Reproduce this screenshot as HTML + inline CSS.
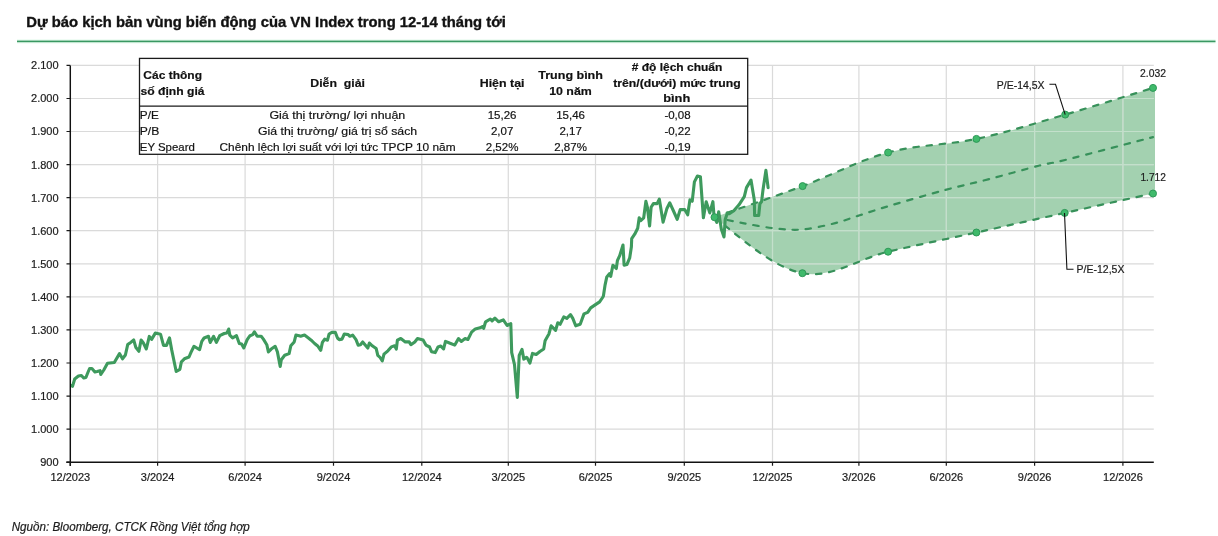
<!DOCTYPE html><html><head><meta charset="utf-8"><style>html,body{margin:0;padding:0;background:#fff;}svg{display:block;will-change:transform;}text{font-family:"Liberation Sans", sans-serif;stroke:#1a1a1a;stroke-width:0.2px;}</style></head><body>
<svg width="1218" height="536" viewBox="0 0 1218 536">
<text x="26.2" y="27.2" font-size="15.2" font-weight="bold" fill="#111" style="stroke-width:0.4px" textLength="479.6" lengthAdjust="spacingAndGlyphs">Dự báo kịch bản vùng biến động của VN Index trong 12-14 tháng tới</text>
<rect x="17" y="39.4" width="1198.5" height="4" fill="#d2f5e0" opacity="0.6"/>
<rect x="17" y="40.6" width="1198.5" height="1.6" fill="#3a9862"/>
<path d="M714.5,217.2 C729.2,212 773.7,196.9 802.6,186.1 C831.5,175.3 859.1,160.4 888.1,152.5 C917.1,144.6 946.9,145.2 976.4,138.9 C1005.9,132.6 1035.8,123.1 1065.2,114.6 C1094.6,106.1 1138.4,92.4 1153,87.9 L1155,87.4 L1155,194 L1153,193.5 C1138.3,196.7 1094.1,206.4 1064.7,212.9 C1035.3,219.4 1005.8,226 976.4,232.5 C947,239 917.1,244.9 888.1,251.7 C859.1,258.5 831.3,278.9 802.4,273.2 C773.5,267.4 745,241.6 714.5,217.2 Z" fill="#a3d1b0"/>
<path d="M70.3,429.1 H1153.8 M70.3,396.1 H1153.8 M70.3,363 H1153.8 M70.3,329.9 H1153.8 M70.3,296.9 H1153.8 M70.3,263.8 H1153.8 M70.3,230.7 H1153.8 M70.3,197.7 H1153.8 M70.3,164.6 H1153.8 M70.3,131.5 H1153.8 M70.3,98.5 H1153.8 M70.3,65.4 H1153.8 M157.6,462 V65.4 M245.1,462 V65.4 M333.5,462 V65.4 M421.8,462 V65.4 M508.3,462 V65.4 M595.5,462 V65.4 M684.3,462 V65.4 M772.5,462 V65.4 M858.9,462 V65.4 M946.3,462 V65.4 M1034.6,462 V65.4 M1122.9,462 V65.4" stroke="#d4d4d4" stroke-opacity="0.85" stroke-width="1.2" fill="none"/>
<clipPath id="fc"><path d="M714.5,217.2 C729.2,212 773.7,196.9 802.6,186.1 C831.5,175.3 859.1,160.4 888.1,152.5 C917.1,144.6 946.9,145.2 976.4,138.9 C1005.9,132.6 1035.8,123.1 1065.2,114.6 C1094.6,106.1 1138.4,92.4 1153,87.9 L1155,87.4 L1155,194 L1153,193.5 C1138.3,196.7 1094.1,206.4 1064.7,212.9 C1035.3,219.4 1005.8,226 976.4,232.5 C947,239 917.1,244.9 888.1,251.7 C859.1,258.5 831.3,278.9 802.4,273.2 C773.5,267.4 745,241.6 714.5,217.2 Z"/></clipPath>
<path d="M70.3,429.1 H1153.8 M70.3,396.1 H1153.8 M70.3,363 H1153.8 M70.3,329.9 H1153.8 M70.3,296.9 H1153.8 M70.3,263.8 H1153.8 M70.3,230.7 H1153.8 M70.3,197.7 H1153.8 M70.3,164.6 H1153.8 M70.3,131.5 H1153.8 M70.3,98.5 H1153.8 M70.3,65.4 H1153.8 M157.6,462 V65.4 M245.1,462 V65.4 M333.5,462 V65.4 M421.8,462 V65.4 M508.3,462 V65.4 M595.5,462 V65.4 M684.3,462 V65.4 M772.5,462 V65.4 M858.9,462 V65.4 M946.3,462 V65.4 M1034.6,462 V65.4 M1122.9,462 V65.4" stroke="#c3e0cb" stroke-width="1.2" fill="none" clip-path="url(#fc)"/>
<text x="58.6" y="466.1" font-size="11" fill="#1c1c1c" text-anchor="end">900</text>
<text x="58.6" y="433" font-size="11" fill="#1c1c1c" text-anchor="end">1.000</text>
<text x="58.6" y="400" font-size="11" fill="#1c1c1c" text-anchor="end">1.100</text>
<text x="58.6" y="366.9" font-size="11" fill="#1c1c1c" text-anchor="end">1.200</text>
<text x="58.6" y="333.8" font-size="11" fill="#1c1c1c" text-anchor="end">1.300</text>
<text x="58.6" y="300.8" font-size="11" fill="#1c1c1c" text-anchor="end">1.400</text>
<text x="58.6" y="267.7" font-size="11" fill="#1c1c1c" text-anchor="end">1.500</text>
<text x="58.6" y="234.6" font-size="11" fill="#1c1c1c" text-anchor="end">1.600</text>
<text x="58.6" y="201.6" font-size="11" fill="#1c1c1c" text-anchor="end">1.700</text>
<text x="58.6" y="168.5" font-size="11" fill="#1c1c1c" text-anchor="end">1.800</text>
<text x="58.6" y="135.4" font-size="11" fill="#1c1c1c" text-anchor="end">1.900</text>
<text x="58.6" y="102.4" font-size="11" fill="#1c1c1c" text-anchor="end">2.000</text>
<text x="58.6" y="69.3" font-size="11" fill="#1c1c1c" text-anchor="end">2.100</text>
<text x="70.3" y="481" font-size="11" fill="#1c1c1c" text-anchor="middle">12/2023</text>
<text x="157.6" y="481" font-size="11" fill="#1c1c1c" text-anchor="middle">3/2024</text>
<text x="245.1" y="481" font-size="11" fill="#1c1c1c" text-anchor="middle">6/2024</text>
<text x="333.5" y="481" font-size="11" fill="#1c1c1c" text-anchor="middle">9/2024</text>
<text x="421.8" y="481" font-size="11" fill="#1c1c1c" text-anchor="middle">12/2024</text>
<text x="508.3" y="481" font-size="11" fill="#1c1c1c" text-anchor="middle">3/2025</text>
<text x="595.5" y="481" font-size="11" fill="#1c1c1c" text-anchor="middle">6/2025</text>
<text x="684.3" y="481" font-size="11" fill="#1c1c1c" text-anchor="middle">9/2025</text>
<text x="772.5" y="481" font-size="11" fill="#1c1c1c" text-anchor="middle">12/2025</text>
<text x="858.9" y="481" font-size="11" fill="#1c1c1c" text-anchor="middle">3/2026</text>
<text x="946.3" y="481" font-size="11" fill="#1c1c1c" text-anchor="middle">6/2026</text>
<text x="1034.6" y="481" font-size="11" fill="#1c1c1c" text-anchor="middle">9/2026</text>
<text x="1122.9" y="481" font-size="11" fill="#1c1c1c" text-anchor="middle">12/2026</text>
<path d="M714.5,217.2 C729.2,212 773.7,196.9 802.6,186.1 C831.5,175.3 859.1,160.4 888.1,152.5 C917.1,144.6 946.9,145.2 976.4,138.9 C1005.9,132.6 1035.8,123.1 1065.2,114.6 C1094.6,106.1 1138.4,92.4 1153,87.9" stroke="#37915a" stroke-width="2.2" stroke-dasharray="5.4,7.8" stroke-linecap="round" fill="none"/>
<path d="M714.5,217.2 C745,241.6 773.5,267.4 802.4,273.2 C831.3,278.9 859.1,258.5 888.1,251.7 C917.1,244.9 947,239 976.4,232.5 C1005.8,226 1035.3,219.4 1064.7,212.9 C1094.1,206.4 1138.3,196.7 1153,193.5" stroke="#37915a" stroke-width="2.2" stroke-dasharray="5.4,7.8" stroke-linecap="round" fill="none"/>
<path d="M714.5,217.2 C719.2,218.2 732.9,221.3 742.8,223.1 C752.6,224.9 763.7,227.1 773.6,228.2 C783.5,229.3 792.1,230.3 802.4,229.5 C812.7,228.7 826,225.4 835.2,223.1 C844.4,220.8 848.7,218.8 857.8,215.9 C866.9,213 875.5,210 890,205.7 C904.5,201.4 928.2,194.5 944.9,190 C961.6,185.5 974.2,183 990,178.9 C1005.8,174.8 1027,168.7 1039.5,165.5 C1052,162.3 1046.1,164.7 1065,160 C1083.9,155.3 1138.3,140.9 1153,137.1" stroke="#37915a" stroke-width="2.2" stroke-dasharray="5.4,7.8" stroke-linecap="round" fill="none"/>
<path d="M71.6,385.7 L72.5,386.4 L74.7,379 L78.4,376 L81.4,375.5 L83.7,378 L85.9,377.5 L88.1,372 L89.6,368.5 L91.9,368.5 L94.9,372 L97.1,371.5 L100,370.7 L100.8,374.5 L103.8,370 L107.5,363.3 L114.3,362.5 L119.5,353.6 L122.5,358.8 L125.4,355 L127.7,344.6 L130.7,342.4 L133.7,340 L135.9,347.6 L138.9,351.3 L141.1,340 L143.4,343 L146.3,349 L149.3,336.4 L151.6,339.4 L155.3,333.1 L160.5,334.2 L163.5,345.4 L166.5,345.4 L169.5,337.9 L171.7,349.9 L176.2,371.5 L179.9,369.3 L181.4,361.8 L184.4,358.8 L189,357 L191.2,351.9 L194,346.3 L196.8,348 L199.6,349.7 L201.8,341.3 L204.1,338 L208.5,336.3 L210.2,342.4 L213.6,336.3 L216.4,342.4 L219.7,335.7 L224.2,333.5 L227,332.9 L228.7,329 L229.8,335.1 L232.6,337.9 L236.5,335.7 L239.3,343.5 L241.6,344.1 L243.8,348 L247.2,339.6 L250,335.7 L252.8,334.6 L254.4,331.8 L257.2,336.3 L261.2,336.3 L263.4,339.1 L266.8,344.7 L268.4,351.9 L271.2,349.1 L275.2,346.3 L277.4,351.9 L280.2,366.5 L281.3,359.8 L284.7,355.3 L289.1,353.6 L290.8,345.8 L294.2,341.9 L295.9,335.1 L299.2,335.7 L300.6,336.3 L304.5,335.1 L308.4,338 L311.2,340.2 L314.6,343.5 L318,346.3 L320.7,350.3 L322.4,342.4 L324.7,339.1 L327.5,340.2 L329.1,334 L331.9,332.4 L335.3,332.4 L337.5,338 L339.2,339.6 L342,339.1 L344.3,334 L348.2,334.6 L349.9,336.3 L352.7,335.1 L356,339.6 L358.2,345.2 L360.5,344.7 L362.7,341.9 L365,344.7 L367.8,348 L369.4,343 L372.2,345.8 L376.2,348.6 L377.8,355.3 L380.1,357.5 L382.3,360.9 L384,354.2 L387.9,350.8 L391.3,346.9 L394.6,345.8 L396.3,349.1 L397.4,340.2 L400.8,338.5 L405.3,341.9 L409.2,341.9 L410.9,344.7 L414.8,341.9 L417.5,338.6 L423.1,340.1 L425.9,345.1 L429.6,347 L431.5,351.7 L435.2,352.6 L438,347 L440.8,346.1 L443.6,348.9 L445.5,341.4 L450.1,343.3 L454.8,345.1 L458.5,338.6 L461.3,341.4 L465.1,338.6 L467.9,339.5 L471.6,332.1 L475.3,328.9 L480,327.8 L482.8,326.5 L483.7,328.3 L485.6,321.8 L490.3,319 L492.1,320.9 L494.9,318.1 L498.7,321.8 L503.3,319.9 L507.1,325.5 L510.8,323.7 L511.7,352.6 L514.5,364.7 L517.3,397.4 L519.2,355.4 L522,349.4 L523.8,359.1 L526.6,357.3 L527.2,357.9 L529.9,363.1 L532.5,353.4 L536.2,354.5 L539.9,351.5 L543.7,349 L545.1,340.7 L548.9,334 L551.1,325.8 L553.4,328.1 L555.6,330.3 L557.8,322.8 L560.1,324.3 L563.8,316.9 L566.8,318.4 L570.5,314.6 L572.8,318.4 L575.7,325.8 L580.2,324.3 L584,313.9 L587.7,312.4 L590.7,307.9 L595.1,304.9 L599.6,301.9 L602.6,297.5 L603.4,296 L605.1,284.8 L606.8,276.9 L609.6,273.6 L610.7,276.4 L612.9,265.2 L616.3,268.5 L617.4,260.7 L619.7,255.7 L623,245 L624.1,265.2 L626.9,264.6 L629.7,257.9 L631.4,246.7 L631.7,238.7 L634.7,234.2 L637.7,228.2 L639.2,217.8 L640.7,220.7 L643.7,217.8 L645.9,201.3 L647.4,207.3 L649.6,226 L651.1,207.3 L653.4,203.6 L657.1,203.6 L659.3,199.1 L663.1,222.2 L666.8,208.8 L669.8,202.8 L673.5,211 L677.2,219.3 L680.2,209.6 L684.7,209.6 L687.7,214.8 L689.9,199.9 L692.2,201.3 L694.4,181.9 L697.4,176 L700.4,176.7 L703.4,217.8 L706.2,201.7 L709.8,212.9 L712.9,201.7 L714,215.7 L716.8,222.4 L718.7,211.7 L721.3,229 L724,237 L725.2,219.6 L727.4,212.9 L729.3,213.7 L733.8,210.7 L739,204.8 L744.3,196.6 L746.5,187.6 L751,180.1 L754.3,200 L754.6,215.5 L758.7,215.5 L759.9,203.9 L761.6,201.5 L762.9,190.6 L765.9,170.4 L768.1,187.6" stroke="#3e9a5d" stroke-width="3.1" stroke-linejoin="round" stroke-linecap="round" fill="none"/>
<circle cx="714.5" cy="217.2" r="3.5" fill="#3fba6b" stroke="#2d9857" stroke-width="1"/>
<circle cx="802.6" cy="186.1" r="3.5" fill="#3fba6b" stroke="#2d9857" stroke-width="1"/>
<circle cx="888.1" cy="152.5" r="3.5" fill="#3fba6b" stroke="#2d9857" stroke-width="1"/>
<circle cx="976.4" cy="138.9" r="3.5" fill="#3fba6b" stroke="#2d9857" stroke-width="1"/>
<circle cx="1065.2" cy="114.6" r="3.5" fill="#3fba6b" stroke="#2d9857" stroke-width="1"/>
<circle cx="1153" cy="87.9" r="3.5" fill="#3fba6b" stroke="#2d9857" stroke-width="1"/>
<circle cx="802.4" cy="273.2" r="3.5" fill="#3fba6b" stroke="#2d9857" stroke-width="1"/>
<circle cx="888.1" cy="251.7" r="3.5" fill="#3fba6b" stroke="#2d9857" stroke-width="1"/>
<circle cx="976.4" cy="232.5" r="3.5" fill="#3fba6b" stroke="#2d9857" stroke-width="1"/>
<circle cx="1064.7" cy="212.9" r="3.5" fill="#3fba6b" stroke="#2d9857" stroke-width="1"/>
<circle cx="1153" cy="193.5" r="3.5" fill="#3fba6b" stroke="#2d9857" stroke-width="1"/>
<path d="M70.3,65.4 V466 M66.3,462.3 H1153.8" stroke="#111" stroke-width="1.45" fill="none"/>
<path d="M66.5,462.2 H70.3 M66.5,429.1 H70.3 M66.5,396.1 H70.3 M66.5,363 H70.3 M66.5,329.9 H70.3 M66.5,296.9 H70.3 M66.5,263.8 H70.3 M66.5,230.7 H70.3 M66.5,197.7 H70.3 M66.5,164.6 H70.3 M66.5,131.5 H70.3 M66.5,98.5 H70.3 M66.5,65.4 H70.3 M70.3,462.2 V465.8 M157.6,462.2 V465.8 M245.1,462.2 V465.8 M333.5,462.2 V465.8 M421.8,462.2 V465.8 M508.3,462.2 V465.8 M595.5,462.2 V465.8 M684.3,462.2 V465.8 M772.5,462.2 V465.8 M858.9,462.2 V465.8 M946.3,462.2 V465.8 M1034.6,462.2 V465.8 M1122.9,462.2 V465.8" stroke="#1a1a1a" stroke-width="1.2" fill="none"/>
<path d="M1049.4,84.3 H1055.5 L1065.2,114.6" stroke="#111" stroke-width="1.1" fill="none"/>
<path d="M1064.5,212.9 L1066.9,269.2 H1073.5" stroke="#111" stroke-width="1.1" fill="none"/>
<text x="996.8" y="88.8" font-size="11" fill="#1c1c1c" textLength="47.8" lengthAdjust="spacingAndGlyphs">P/E-14,5X</text>
<text x="1076.6" y="273.4" font-size="11" fill="#1c1c1c" textLength="47.8" lengthAdjust="spacingAndGlyphs">P/E-12,5X</text>
<text x="1140" y="76.6" font-size="11" fill="#1c1c1c" textLength="25.9" lengthAdjust="spacingAndGlyphs">2.032</text>
<text x="1140.4" y="181.4" font-size="11" fill="#1c1c1c" textLength="25.5" lengthAdjust="spacingAndGlyphs">1.712</text>
<rect x="139.5" y="58.4" width="608.2" height="95.9" fill="#fff" stroke="#1a1a1a" stroke-width="1.3"/>
<path d="M139.5,106.2 H747.7" stroke="#1a1a1a" stroke-width="1.3"/>
<text x="143.3" y="78.6" font-size="11.5" font-weight="bold" fill="#111" textLength="58.7" lengthAdjust="spacingAndGlyphs">Các thông</text>
<text x="140.5" y="94.6" font-size="11.5" font-weight="bold" fill="#111" textLength="64" lengthAdjust="spacingAndGlyphs">số định giá</text>
<text x="310.3" y="87.2" font-size="11.5" font-weight="bold" fill="#111" textLength="54.7" lengthAdjust="spacingAndGlyphs">Diễn&#160; giải</text>
<text x="479.7" y="87.1" font-size="11.5" font-weight="bold" fill="#111" textLength="44.8" lengthAdjust="spacingAndGlyphs">Hiện tại</text>
<text x="538.3" y="79" font-size="11.5" font-weight="bold" fill="#111" textLength="64.6" lengthAdjust="spacingAndGlyphs">Trung bình</text>
<text x="549.2" y="94.9" font-size="11.5" font-weight="bold" fill="#111" textLength="42.6" lengthAdjust="spacingAndGlyphs">10 năm</text>
<text x="631.7" y="70.5" font-size="11.5" font-weight="bold" fill="#111" textLength="90.6" lengthAdjust="spacingAndGlyphs"># độ lệch chuẩn</text>
<text x="613.2" y="86.6" font-size="11.5" font-weight="bold" fill="#111" textLength="127.6" lengthAdjust="spacingAndGlyphs">trên/(dưới) mức trung</text>
<text x="663.2" y="102" font-size="11.5" font-weight="bold" fill="#111" textLength="27.1" lengthAdjust="spacingAndGlyphs">bình</text>
<text x="139.8" y="119" font-size="11.5" fill="#111" textLength="19" lengthAdjust="spacingAndGlyphs">P/E</text>
<text x="139.8" y="134.8" font-size="11.5" fill="#111" textLength="19.5" lengthAdjust="spacingAndGlyphs">P/B</text>
<text x="139.8" y="150.6" font-size="11.5" fill="#111" textLength="55" lengthAdjust="spacingAndGlyphs">EY Speard</text>
<text x="269.4" y="119" font-size="11.5" fill="#111" textLength="135.9" lengthAdjust="spacingAndGlyphs">Giá thị trường/ lợi nhuận</text>
<text x="258" y="134.8" font-size="11.5" fill="#111" textLength="159.2" lengthAdjust="spacingAndGlyphs">Giá thị trường/ giá trị sổ sách</text>
<text x="219.5" y="150.6" font-size="11.5" fill="#111" textLength="236.1" lengthAdjust="spacingAndGlyphs">Chênh lệch lợi suất với lợi tức TPCP 10 năm</text>
<text x="502.1" y="119" font-size="11.5" fill="#111" text-anchor="middle">15,26</text>
<text x="502.1" y="134.8" font-size="11.5" fill="#111" text-anchor="middle">2,07</text>
<text x="502.1" y="150.6" font-size="11.5" fill="#111" text-anchor="middle">2,52%</text>
<text x="570.6" y="119" font-size="11.5" fill="#111" text-anchor="middle">15,46</text>
<text x="570.6" y="134.8" font-size="11.5" fill="#111" text-anchor="middle">2,17</text>
<text x="570.6" y="150.6" font-size="11.5" fill="#111" text-anchor="middle">2,87%</text>
<text x="677.5" y="119" font-size="11.5" fill="#111" text-anchor="middle">-0,08</text>
<text x="677.5" y="134.8" font-size="11.5" fill="#111" text-anchor="middle">-0,22</text>
<text x="677.5" y="150.6" font-size="11.5" fill="#111" text-anchor="middle">-0,19</text>
<text x="11.7" y="530.9" font-size="12" font-style="italic" fill="#1c1c1c" textLength="238" lengthAdjust="spacingAndGlyphs">Nguồn: Bloomberg, CTCK Rồng Việt tổng hợp</text>
</svg></body></html>
